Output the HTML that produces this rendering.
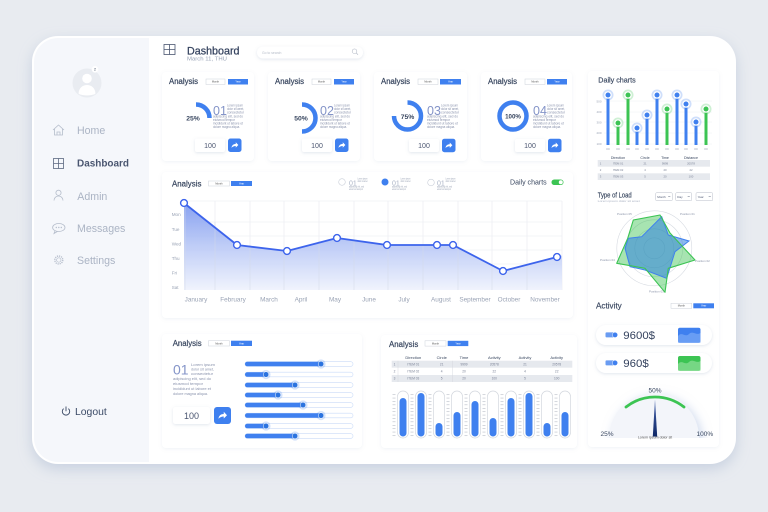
<!DOCTYPE html>
<html><head><meta charset="utf-8"><style>
html,body{margin:0;padding:0;width:768px;height:512px;overflow:hidden;background:#e8ebf0}
svg{display:block}
text{font-family:"Liberation Sans",sans-serif}
.h{font-size:8px;fill:#38465f;stroke:#38465f;stroke-width:.2}
.bt{font-size:2.6px;fill:#555}
.bw{font-size:2.6px;fill:#fff}
.lo{font-size:3.2px;fill:#8a93ad}
.lo4{font-size:4px;fill:#8a93ad}
.big{font-size:12.5px;fill:#8494c8}
.pc{font-size:6.8px;fill:#38465f;font-weight:bold}
.n{font-size:7px;fill:#4a5570}
.card{fill:#fff;filter:url(#sh)}
.inp{fill:#fff;filter:url(#sh2)}
.nav{font-size:10.6px;fill:#abb4c4}
.yl{font-size:4.6px;fill:#9aa3b5}
.ml{font-size:6.4px;fill:#9aa3b5;text-anchor:middle}
.th{font-size:4px;fill:#38465f;text-anchor:middle}
.td{font-size:3.2px;fill:#7a8296;text-anchor:middle}
.tiny{font-size:2.4px;fill:#9aa3b5}
.rl{font-size:3px;fill:#8a93a8}
</style></head><body>
<svg width="768" height="512" viewBox="0 0 768 512" xmlns="http://www.w3.org/2000/svg">
<defs>
<filter id="fsh" x="-10%" y="-10%" width="120%" height="125%"><feDropShadow dx="0" dy="5" stdDeviation="7" flood-color="#9fb0cc" flood-opacity=".45"/></filter>
<filter id="sh" x="-10%" y="-10%" width="120%" height="120%"><feDropShadow dx="0" dy="1" stdDeviation="1.8" flood-color="#8a9ab8" flood-opacity=".13"/></filter>
<filter id="sh2" x="-30%" y="-30%" width="160%" height="160%"><feDropShadow dx="0" dy="1" stdDeviation="1.5" flood-color="#8a9ab8" flood-opacity=".25"/></filter>
<filter id="sh3" x="-30%" y="-30%" width="160%" height="160%"><feDropShadow dx="3" dy="3" stdDeviation="5" flood-color="#9fb4dc" flood-opacity=".5"/></filter>
<clipPath id="fc"><rect x="34" y="38" width="700" height="424" rx="24"/></clipPath>
<clipPath id="gc"><rect x="590" y="380" width="128" height="58"/></clipPath>
<linearGradient id="ag" x1="0" y1="201" x2="0" y2="292" gradientUnits="userSpaceOnUse"><stop offset="0" stop-color="#7895ef"/><stop offset=".5" stop-color="#b9c8f6"/><stop offset="1" stop-color="#f1f4fd"/></linearGradient>
<linearGradient id="ng" x1="0" y1="399" x2="0" y2="437" gradientUnits="userSpaceOnUse"><stop offset="0" stop-color="#4a67b0"/><stop offset="1" stop-color="#0e2766"/></linearGradient>
<pattern id="tk" width="3" height="3.4" patternUnits="userSpaceOnUse"><rect width="3" height="0.5" fill="#a9afbb"/></pattern>
</defs>

<!-- page & frame -->
<rect width="768" height="512" fill="#e8ebf0"/>
<rect x="32" y="36" width="704" height="428" rx="26" fill="#fff" filter="url(#fsh)"/>
<rect x="34" y="38" width="115" height="424" fill="#f5f7fb" clip-path="url(#fc)"/>

<!-- sidebar -->
<circle cx="87" cy="83" r="14.5" fill="#e9ecf1"/>
<circle cx="87" cy="78.5" r="4.8" fill="#fff"/>
<path d="M78.5,93.5 C79,87.5 83,85 87,85 C91,85 95,87.5 95.5,93.5 C93,96 81,96 78.5,93.5Z" fill="#fff"/>
<circle cx="95" cy="69.3" r="3.3" fill="#fff"/>
<text x="95" y="70.6" font-size="3.6" fill="#38465f" text-anchor="middle">2</text>

<path d="M53,130 L58.5,125 L64,130 M54.5,129 V135 H62.5 V129 M57,135 V132 H60 V135" stroke="#b5bdcb" stroke-width=".8" fill="none"/>
<text x="77" y="134" class="nav">Home</text>
<rect x="53.5" y="158.5" width="10" height="10" stroke="#5b6780" stroke-width=".8" fill="none"/>
<path d="M58.5,158.5 V168.5 M53.5,163.5 H63.5" stroke="#5b6780" stroke-width=".8"/>
<text x="77" y="166.7" font-size="10.2" font-weight="bold" fill="#4a5670" textLength="52" lengthAdjust="spacingAndGlyphs">Dashboard</text>
<circle cx="58.5" cy="192.8" r="2.6" stroke="#b5bdcb" stroke-width=".8" fill="none"/>
<path d="M54,200.5 a4.5,4.5 0 0 1 9,0" stroke="#b5bdcb" stroke-width=".8" fill="none"/>
<text x="77.3" y="200" class="nav">Admin</text>
<ellipse cx="58.8" cy="227.5" rx="6.2" ry="4" stroke="#b5bdcb" stroke-width=".8" fill="none"/>
<path d="M55,231 L54,233.5 L57.5,231.4" stroke="#b5bdcb" stroke-width=".8" fill="none"/>
<circle cx="56.3" cy="227.5" r=".7" fill="#b5bdcb"/><circle cx="58.8" cy="227.5" r=".7" fill="#b5bdcb"/><circle cx="61.3" cy="227.5" r=".7" fill="#b5bdcb"/>
<text x="77" y="232" class="nav">Messages</text>
<circle cx="58.8" cy="260" r="4" stroke="#b5bdcb" stroke-width="1.3" stroke-dasharray="1.2 .9" fill="none"/>
<circle cx="58.8" cy="260" r="2.2" stroke="#b5bdcb" stroke-width=".7" fill="none"/>
<text x="77" y="264" class="nav">Settings</text>
<path d="M63.6,408.6 a3.7,3.7 0 1 0 4.8,0" stroke="#3b4a66" stroke-width=".9" fill="none"/>
<path d="M66,406.5 V411.2" stroke="#3b4a66" stroke-width=".9"/>
<text x="75" y="415" font-size="10.4" fill="#3b4a66">Logout</text>

<!-- header -->
<rect x="164" y="44.5" width="11" height="10" stroke="#4a5670" stroke-width=".8" fill="none"/>
<path d="M169.5,44.5 V54.5 M164,49.5 H175" stroke="#4a5670" stroke-width=".8"/>
<text x="187" y="54.3" font-size="11" fill="#34425e" stroke="#34425e" stroke-width=".25" textLength="52.5" lengthAdjust="spacingAndGlyphs">Dashboard</text>
<text x="187" y="60.7" font-size="5.3" fill="#98a2b5" textLength="40" lengthAdjust="spacingAndGlyphs">March 11, THU</text>
<rect x="257" y="46.5" width="106" height="12" rx="6" fill="#fff" filter="url(#sh2)"/>
<text x="262" y="53.8" font-size="3.4" fill="#b5bcc8">Go to search</text>
<circle cx="354.5" cy="51.2" r="2.3" stroke="#b5bcc8" stroke-width=".6" fill="none"/>
<path d="M356.2,52.9 L358,54.7" stroke="#b5bcc8" stroke-width=".7"/>

<!-- top cards -->
<g transform="translate(162,0)">
<rect y="72" width="92" height="89" rx="4" class="card"/>
<text x="7" y="84" class="h" textLength="29" lengthAdjust="spacingAndGlyphs">Analysis</text>
<rect x="44" y="79" width="19" height="5.5" fill="#fff" stroke="#cdd2da" stroke-width=".5"/><text x="53.5" y="82.7" class="bt" text-anchor="middle">Month</text>
<rect x="66" y="79" width="20" height="5.5" fill="#3f80ef"/><text x="76" y="82.7" class="bw" text-anchor="middle">Year</text>
<path d="M34,104.5 A13.5,13.5 0 0 1 47.5,118" fill="none" stroke="#3f80ef" stroke-width="4.5"/>
<text x="31" y="120.5" class="pc" text-anchor="middle">25%</text>
<text x="51" y="115" class="big">01</text>
<text x="65" y="106.5" class="lo" textLength="16" lengthAdjust="spacingAndGlyphs">Lorem ipsum</text>
<text x="65" y="110.1" class="lo" textLength="17" lengthAdjust="spacingAndGlyphs">dolor sit amet,</text>
<text x="65" y="113.7" class="lo" textLength="17" lengthAdjust="spacingAndGlyphs">consectetur</text>
<text x="51" y="117.3" class="lo" textLength="30" lengthAdjust="spacingAndGlyphs">adipiscing elit, sed do</text>
<text x="51" y="120.9" class="lo" textLength="22" lengthAdjust="spacingAndGlyphs">eiusmod tempor</text>
<text x="51" y="124.5" class="lo" textLength="30" lengthAdjust="spacingAndGlyphs">incididunt ut labore et</text>
<text x="51" y="128.1" class="lo" textLength="27" lengthAdjust="spacingAndGlyphs">dolore magna aliqua.</text>
<rect x="33" y="138.5" width="30" height="13.5" rx="2" class="inp"/><text x="48" y="148" class="n" text-anchor="middle">100</text>
<rect x="66" y="138.5" width="13.5" height="13.5" rx="2.5" fill="#3f80ef"/>
<path transform="translate(72.75,145.25)" d="M-3.2,2.6 C-3,0 -1.2,-1.2 1,-1.2 L1,-3 L3.6,-0.2 L1,2.4 L1,0.8 C-0.8,0.8 -2.2,1.4 -3.2,2.6 Z" fill="#fff"/>
</g>
<g transform="translate(268,0)">
<rect y="72" width="92" height="89" rx="4" class="card"/>
<text x="7" y="84" class="h" textLength="29" lengthAdjust="spacingAndGlyphs">Analysis</text>
<rect x="44" y="79" width="19" height="5.5" fill="#fff" stroke="#cdd2da" stroke-width=".5"/><text x="53.5" y="82.7" class="bt" text-anchor="middle">Month</text>
<rect x="66" y="79" width="20" height="5.5" fill="#3f80ef"/><text x="76" y="82.7" class="bw" text-anchor="middle">Year</text>
<path d="M34,104.5 A13.5,13.5 0 0 1 34,131.5" fill="none" stroke="#3f80ef" stroke-width="4.5"/>
<text x="33" y="120.5" class="pc" text-anchor="middle">50%</text>
<text x="52" y="115" class="big">02</text>
<text x="66" y="106.5" class="lo" textLength="16" lengthAdjust="spacingAndGlyphs">Lorem ipsum</text>
<text x="66" y="110.1" class="lo" textLength="17" lengthAdjust="spacingAndGlyphs">dolor sit amet,</text>
<text x="66" y="113.7" class="lo" textLength="17" lengthAdjust="spacingAndGlyphs">consectetur</text>
<text x="52" y="117.3" class="lo" textLength="30" lengthAdjust="spacingAndGlyphs">adipiscing elit, sed do</text>
<text x="52" y="120.9" class="lo" textLength="22" lengthAdjust="spacingAndGlyphs">eiusmod tempor</text>
<text x="52" y="124.5" class="lo" textLength="30" lengthAdjust="spacingAndGlyphs">incididunt ut labore et</text>
<text x="52" y="128.1" class="lo" textLength="27" lengthAdjust="spacingAndGlyphs">dolore magna aliqua.</text>
<rect x="34" y="138.5" width="30" height="13.5" rx="2" class="inp"/><text x="49" y="148" class="n" text-anchor="middle">100</text>
<rect x="67" y="138.5" width="13.5" height="13.5" rx="2.5" fill="#3f80ef"/>
<path transform="translate(73.75,145.25)" d="M-3.2,2.6 C-3,0 -1.2,-1.2 1,-1.2 L1,-3 L3.6,-0.2 L1,2.4 L1,0.8 C-0.8,0.8 -2.2,1.4 -3.2,2.6 Z" fill="#fff"/>
</g>
<g transform="translate(374,0)">
<rect y="72" width="93" height="89" rx="4" class="card"/>
<text x="7" y="84" class="h" textLength="29" lengthAdjust="spacingAndGlyphs">Analysis</text>
<rect x="44" y="79" width="20" height="5.5" fill="#fff" stroke="#cdd2da" stroke-width=".5"/><text x="54" y="82.7" class="bt" text-anchor="middle">Month</text>
<rect x="66" y="79" width="21" height="5.5" fill="#3f80ef"/><text x="76.5" y="82.7" class="bw" text-anchor="middle">Year</text>
<path d="M33.5,102.5 A13.5,13.5 0 1 1 20,116" fill="none" stroke="#3f80ef" stroke-width="4.5"/>
<text x="33.5" y="119" class="pc" text-anchor="middle">75%</text>
<text x="53" y="115" class="big">03</text>
<text x="67" y="106.5" class="lo" textLength="17" lengthAdjust="spacingAndGlyphs">Lorem ipsum</text>
<text x="67" y="110.1" class="lo" textLength="18" lengthAdjust="spacingAndGlyphs">dolor sit amet,</text>
<text x="67" y="113.7" class="lo" textLength="18" lengthAdjust="spacingAndGlyphs">consectetur</text>
<text x="53" y="117.3" class="lo" textLength="31" lengthAdjust="spacingAndGlyphs">adipiscing elit, sed do</text>
<text x="53" y="120.9" class="lo" textLength="23" lengthAdjust="spacingAndGlyphs">eiusmod tempor</text>
<text x="53" y="124.5" class="lo" textLength="31" lengthAdjust="spacingAndGlyphs">incididunt ut labore et</text>
<text x="53" y="128.1" class="lo" textLength="28" lengthAdjust="spacingAndGlyphs">dolore magna aliqua.</text>
<rect x="35" y="139" width="30" height="13" rx="2" class="inp"/><text x="50" y="148.2" class="n" text-anchor="middle">100</text>
<rect x="68" y="138.7" width="13.5" height="13.5" rx="2.5" fill="#3f80ef"/>
<path transform="translate(74.75,145.45)" d="M-3.2,2.6 C-3,0 -1.2,-1.2 1,-1.2 L1,-3 L3.6,-0.2 L1,2.4 L1,0.8 C-0.8,0.8 -2.2,1.4 -3.2,2.6 Z" fill="#fff"/>
</g>
<g transform="translate(481,0)">
<rect y="72" width="91" height="89" rx="4" class="card"/>
<text x="7" y="84" class="h" textLength="29" lengthAdjust="spacingAndGlyphs">Analysis</text>
<rect x="44" y="79" width="20" height="5.5" fill="#fff" stroke="#cdd2da" stroke-width=".5"/><text x="54" y="82.7" class="bt" text-anchor="middle">Month</text>
<rect x="66" y="79" width="20" height="5.5" fill="#3f80ef"/><text x="76" y="82.7" class="bw" text-anchor="middle">Year</text>
<circle cx="32" cy="116" r="13.5" fill="none" stroke="#3f80ef" stroke-width="4.5"/>
<text x="32" y="118.5" class="pc" text-anchor="middle" font-size="6.2" style="font-size:6.2px">100%</text>
<text x="52" y="115" class="big">04</text>
<text x="66" y="106.5" class="lo" textLength="17" lengthAdjust="spacingAndGlyphs">Lorem ipsum</text>
<text x="66" y="110.1" class="lo" textLength="18" lengthAdjust="spacingAndGlyphs">dolor sit amet,</text>
<text x="66" y="113.7" class="lo" textLength="18" lengthAdjust="spacingAndGlyphs">consectetur</text>
<text x="52" y="117.3" class="lo" textLength="31" lengthAdjust="spacingAndGlyphs">adipiscing elit, sed do</text>
<text x="52" y="120.9" class="lo" textLength="23" lengthAdjust="spacingAndGlyphs">eiusmod tempor</text>
<text x="52" y="124.5" class="lo" textLength="31" lengthAdjust="spacingAndGlyphs">incididunt ut labore et</text>
<text x="52" y="128.1" class="lo" textLength="28" lengthAdjust="spacingAndGlyphs">dolore magna aliqua.</text>
<rect x="34" y="139" width="30" height="13" rx="2" class="inp"/><text x="49" y="148.2" class="n" text-anchor="middle">100</text>
<rect x="67" y="138.7" width="13.5" height="13.5" rx="2.5" fill="#3f80ef"/>
<path transform="translate(73.75,145.45)" d="M-3.2,2.6 C-3,0 -1.2,-1.2 1,-1.2 L1,-3 L3.6,-0.2 L1,2.4 L1,0.8 C-0.8,0.8 -2.2,1.4 -3.2,2.6 Z" fill="#fff"/>
</g>

<!-- main line chart card -->
<rect x="162" y="172" width="411" height="146" rx="4" class="card"/>
<text x="172" y="186.5" class="h" textLength="29.4" lengthAdjust="spacingAndGlyphs">Analysis</text>
<rect x="208.5" y="181" width="21" height="5" fill="#fff" stroke="#cdd2da" stroke-width=".5"/><text x="219" y="184.4" class="bt" text-anchor="middle">Month</text>
<rect x="231" y="181" width="21" height="5" fill="#3f80ef"/><text x="241.5" y="184.4" class="bw" text-anchor="middle">Year</text>
<circle cx="342" cy="182" r="3.3" fill="#fff" stroke="#c9ced8" stroke-width=".6"/>
<text x="349" y="185.5" font-size="7" fill="#aab3c6">01</text>
<text x="357.5" y="179.5" class="tiny" textLength="10" lengthAdjust="spacingAndGlyphs">Lorem ipsum</text>
<text x="357.5" y="182" class="tiny" textLength="10" lengthAdjust="spacingAndGlyphs">dolor sit amet</text>
<text x="349" y="187.5" class="tiny" textLength="15" lengthAdjust="spacingAndGlyphs">adipiscing elit, sed</text>
<text x="349" y="190" class="tiny" textLength="14" lengthAdjust="spacingAndGlyphs">eiusmod tempor</text>
<circle cx="385" cy="182" r="3.5" fill="#3f80ef"/>
<text x="392" y="185.5" font-size="7" fill="#aab3c6">01</text>
<text x="400.5" y="179.5" class="tiny" textLength="10" lengthAdjust="spacingAndGlyphs">Lorem ipsum</text>
<text x="400.5" y="182" class="tiny" textLength="10" lengthAdjust="spacingAndGlyphs">dolor sit amet</text>
<text x="392" y="187.5" class="tiny" textLength="15" lengthAdjust="spacingAndGlyphs">adipiscing elit, sed</text>
<text x="392" y="190" class="tiny" textLength="14" lengthAdjust="spacingAndGlyphs">eiusmod tempor</text>
<circle cx="431" cy="182.5" r="3.3" fill="#fff" stroke="#c9ced8" stroke-width=".6"/>
<text x="437" y="185.5" font-size="7" fill="#aab3c6">01</text>
<text x="445.5" y="179.5" class="tiny" textLength="10" lengthAdjust="spacingAndGlyphs">Lorem ipsum</text>
<text x="445.5" y="182" class="tiny" textLength="10" lengthAdjust="spacingAndGlyphs">dolor sit amet</text>
<text x="437" y="187.5" class="tiny" textLength="15" lengthAdjust="spacingAndGlyphs">adipiscing elit, sed</text>
<text x="437" y="190" class="tiny" textLength="14" lengthAdjust="spacingAndGlyphs">eiusmod tempor</text>
<text x="510" y="184.5" font-size="7" fill="#38465f" textLength="36.7" lengthAdjust="spacingAndGlyphs">Daily charts</text>
<rect x="551.5" y="179.5" width="12" height="5.5" rx="2.75" fill="#3cc453"/>
<circle cx="560.8" cy="182.25" r="2" fill="#fff"/>

<g stroke="#e7eaf0" stroke-width=".6">
<path d="M185,201 V290 M215,201 V290 M250,201 V290 M284,201 V290 M319,201 V290 M354,201 V290 M388,201 V290 M423,201 V290 M458,201 V290 M492,201 V290 M527,201 V290 M562,201 V290"/>
<path d="M185,201 H562 M185,222 H562 M185,236 H562 M185,250 H562 M185,264 H562 M185,278 H562"/>
</g>
<path d="M184,203 L237,245 L287,251 L337,238 L387,245 L437,245 L453,245 L503,271 L557,257 L562,255.5 L562,290 L184,290 Z" fill="url(#ag)" opacity=".9"/>
<g stroke="#d5dbe8" stroke-width=".5"><path d="M185,201 V290 M215,222 V290 M250,245 V290 M284,251 V290 M319,241 V290 M354,241 V290 M388,245 V290 M423,245 V290 M458,246 V290 M492,266 V290 M527,264 V290"/></g>
<path d="M184,203 L237,245 L287,251 L337,238 L387,245 L437,245 L453,245 L503,271 L557,257" fill="none" stroke="#3d64ec" stroke-width="1.8" stroke-linejoin="round"/>
<g fill="#fff" stroke="#3d64ec" stroke-width="1.4">
<circle cx="184" cy="203" r="3.4"/><circle cx="237" cy="245" r="3.4"/><circle cx="287" cy="251" r="3.4"/><circle cx="337" cy="238" r="3.4"/><circle cx="387" cy="245" r="3.4"/><circle cx="437" cy="245" r="3.4"/><circle cx="453" cy="245" r="3.4"/><circle cx="503" cy="271" r="3.4"/><circle cx="557" cy="257" r="3.4"/>
</g>
<text x="171.7" y="216" class="yl">Mon</text>
<text x="171.7" y="231" class="yl">Tue</text>
<text x="171.7" y="245.5" class="yl">Wed</text>
<text x="171.7" y="260" class="yl">Thu</text>
<text x="171.7" y="274.5" class="yl">Fri</text>
<text x="171.7" y="289" class="yl">Sat</text>
<text x="196" y="301.5" class="ml">January</text>
<text x="233" y="301.5" class="ml">February</text>
<text x="269" y="301.5" class="ml">March</text>
<text x="301" y="301.5" class="ml">April</text>
<text x="335" y="301.5" class="ml">May</text>
<text x="369" y="301.5" class="ml">June</text>
<text x="404" y="301.5" class="ml">July</text>
<text x="441" y="301.5" class="ml">August</text>
<text x="475" y="301.5" class="ml">September</text>
<text x="509" y="301.5" class="ml">October</text>
<text x="545" y="301.5" class="ml">November</text>

<!-- bottom left card -->
<rect x="162" y="334" width="200" height="114" rx="4" class="card"/>
<text x="172.7" y="346" class="h" textLength="29" lengthAdjust="spacingAndGlyphs">Analysis</text>
<rect x="208.5" y="340.7" width="21" height="5.3" fill="#fff" stroke="#cdd2da" stroke-width=".5"/><text x="219" y="344.3" class="bt" text-anchor="middle">Month</text>
<rect x="231" y="340.7" width="21" height="5.3" fill="#3f80ef"/><text x="241.5" y="344.3" class="bw" text-anchor="middle">Year</text>
<text x="173" y="374.5" font-size="14" fill="#8494c8">01</text>
<text x="191" y="366" class="lo4" textLength="24" lengthAdjust="spacingAndGlyphs">Lorem ipsum</text>
<text x="191" y="370.5" class="lo4" textLength="23" lengthAdjust="spacingAndGlyphs">dolor sit amet,</text>
<text x="191" y="375" class="lo4" textLength="22" lengthAdjust="spacingAndGlyphs">consectetur</text>
<text x="173" y="380" class="lo4" textLength="38" lengthAdjust="spacingAndGlyphs">adipiscing elit, sed do</text>
<text x="173" y="385" class="lo4" textLength="30" lengthAdjust="spacingAndGlyphs">eiusmod tempor</text>
<text x="173" y="390" class="lo4" textLength="38" lengthAdjust="spacingAndGlyphs">incididunt ut labore et</text>
<text x="173" y="395" class="lo4" textLength="35" lengthAdjust="spacingAndGlyphs">dolore magna aliqua.</text>
<rect x="173" y="407" width="37" height="17" rx="2.5" class="inp"/><text x="191.5" y="418.8" font-size="9" fill="#4a5570" text-anchor="middle">100</text>
<rect x="214" y="407" width="17" height="17" rx="3" fill="#3f80ef"/>
<path transform="translate(222.5,415.5) scale(1.25)" d="M-3.2,2.6 C-3,0 -1.2,-1.2 1,-1.2 L1,-3 L3.6,-0.2 L1,2.4 L1,0.8 C-0.8,0.8 -2.2,1.4 -3.2,2.6 Z" fill="#fff"/>
<g>
<rect x="245" y="361.7" width="108" height="4.6" rx="2.3" fill="#fff" stroke="#c9dbf8" stroke-width=".6"/><rect x="245" y="361.7" width="76" height="4.6" rx="2.3" fill="#3f80ef"/>
<rect x="245" y="372.2" width="108" height="4.6" rx="2.3" fill="#fff" stroke="#c9dbf8" stroke-width=".6"/><rect x="245" y="372.2" width="21" height="4.6" rx="2.3" fill="#3f80ef"/>
<rect x="245" y="382.7" width="108" height="4.6" rx="2.3" fill="#fff" stroke="#c9dbf8" stroke-width=".6"/><rect x="245" y="382.7" width="50" height="4.6" rx="2.3" fill="#3f80ef"/>
<rect x="245" y="392.7" width="108" height="4.6" rx="2.3" fill="#fff" stroke="#c9dbf8" stroke-width=".6"/><rect x="245" y="392.7" width="33" height="4.6" rx="2.3" fill="#3f80ef"/>
<rect x="245" y="402.7" width="108" height="4.6" rx="2.3" fill="#fff" stroke="#c9dbf8" stroke-width=".6"/><rect x="245" y="402.7" width="58" height="4.6" rx="2.3" fill="#3f80ef"/>
<rect x="245" y="413.2" width="108" height="4.6" rx="2.3" fill="#fff" stroke="#c9dbf8" stroke-width=".6"/><rect x="245" y="413.2" width="76" height="4.6" rx="2.3" fill="#3f80ef"/>
<rect x="245" y="423.7" width="108" height="4.6" rx="2.3" fill="#fff" stroke="#c9dbf8" stroke-width=".6"/><rect x="245" y="423.7" width="21" height="4.6" rx="2.3" fill="#3f80ef"/>
<rect x="245" y="433.7" width="108" height="4.6" rx="2.3" fill="#fff" stroke="#c9dbf8" stroke-width=".6"/><rect x="245" y="433.7" width="50" height="4.6" rx="2.3" fill="#3f80ef"/>
</g>
<g fill="#3f80ef" fill-opacity=".22"><circle cx="321" cy="364" r="4.6"/><circle cx="266" cy="374.5" r="4.6"/><circle cx="295" cy="385" r="4.6"/><circle cx="278" cy="395" r="4.6"/><circle cx="303" cy="405" r="4.6"/><circle cx="321" cy="415.5" r="4.6"/><circle cx="266" cy="426" r="4.6"/><circle cx="295" cy="436" r="4.6"/></g>
<g fill="#2b73df" stroke="#fff" stroke-width=".5"><circle cx="321" cy="364" r="2.8"/><circle cx="266" cy="374.5" r="2.8"/><circle cx="295" cy="385" r="2.8"/><circle cx="278" cy="395" r="2.8"/><circle cx="303" cy="405" r="2.8"/><circle cx="321" cy="415.5" r="2.8"/><circle cx="266" cy="426" r="2.8"/><circle cx="295" cy="436" r="2.8"/></g>

<!-- bottom middle card -->
<rect x="381" y="335" width="196" height="113" rx="4" class="card"/>
<text x="389" y="347" class="h" textLength="29.3" lengthAdjust="spacingAndGlyphs">Analysis</text>
<rect x="425" y="340.8" width="21" height="5.3" fill="#fff" stroke="#cdd2da" stroke-width=".5"/><text x="435.5" y="344.4" class="bt" text-anchor="middle">Month</text>
<rect x="447.7" y="340.8" width="20.6" height="5.3" fill="#3f80ef"/><text x="458" y="344.4" class="bw" text-anchor="middle">Year</text>
<text x="413.3" y="359.2" class="th">Direction</text>
<text x="441.7" y="359.2" class="th">Circle</text>
<text x="464" y="359.2" class="th">Time</text>
<text x="494.3" y="359.2" class="th">Activity</text>
<text x="525" y="359.2" class="th">Activity</text>
<text x="556.7" y="359.2" class="th">Activity</text>
<rect x="391.7" y="360.7" width="180.6" height="7" fill="#e6e9ee"/>
<rect x="391.7" y="375" width="180.6" height="7" fill="#e6e9ee"/>
<path d="M398,360.7 V382 M452.7,360.7 V382" stroke="#d0d4dc" stroke-width=".4"/>
<g class="td">
<text x="394.5" y="365.3" class="td">1</text><text x="413.3" y="365.3" class="td">ITEM 01</text><text x="441.7" y="365.3" class="td">21</text><text x="464" y="365.3" class="td">9999</text><text x="494.3" y="365.3" class="td">20578</text><text x="525" y="365.3" class="td">21</text><text x="556.7" y="365.3" class="td">20578</text>
<text x="394.5" y="372.4" class="td">2</text><text x="413.3" y="372.4" class="td">ITEM 02</text><text x="441.7" y="372.4" class="td">4</text><text x="464" y="372.4" class="td">20</text><text x="494.3" y="372.4" class="td">22</text><text x="525" y="372.4" class="td">4</text><text x="556.7" y="372.4" class="td">22</text>
<text x="394.5" y="379.6" class="td">3</text><text x="413.3" y="379.6" class="td">ITEM 03</text><text x="441.7" y="379.6" class="td">5</text><text x="464" y="379.6" class="td">20</text><text x="494.3" y="379.6" class="td">100</text><text x="525" y="379.6" class="td">5</text><text x="556.7" y="379.6" class="td">100</text>
</g>
<g fill="url(#tk)">
<rect x="392.5" y="393" width="3" height="45"/><rect x="410.5" y="393" width="3" height="45"/><rect x="428.5" y="393" width="3" height="45"/><rect x="446.5" y="393" width="3" height="45"/><rect x="464.5" y="393" width="3" height="45"/><rect x="482.5" y="393" width="3" height="45"/><rect x="500.5" y="393" width="3" height="45"/><rect x="518.5" y="393" width="3" height="45"/><rect x="536.5" y="393" width="3" height="45"/><rect x="554.5" y="393" width="3" height="45"/>
</g>
<g fill="#fff" stroke="#d3d7de" stroke-width=".7">
<rect x="397.5" y="391" width="11" height="47" rx="5.5"/><rect x="415.5" y="391" width="11" height="47" rx="5.5"/><rect x="433.5" y="391" width="11" height="47" rx="5.5"/><rect x="451.5" y="391" width="11" height="47" rx="5.5"/><rect x="469.5" y="391" width="11" height="47" rx="5.5"/><rect x="487.5" y="391" width="11" height="47" rx="5.5"/><rect x="505.5" y="391" width="11" height="47" rx="5.5"/><rect x="523.5" y="391" width="11" height="47" rx="5.5"/><rect x="541.5" y="391" width="11" height="47" rx="5.5"/><rect x="559.5" y="391" width="11" height="47" rx="5.5"/>
</g>
<g fill="#3f80ef">
<rect x="399.5" y="398" width="7" height="38.5" rx="3.5"/><rect x="417.5" y="393" width="7" height="43.5" rx="3.5"/><rect x="435.5" y="423" width="7" height="13.5" rx="3.5"/><rect x="453.5" y="412" width="7" height="24.5" rx="3.5"/><rect x="471.5" y="401" width="7" height="35.5" rx="3.5"/><rect x="489.5" y="418" width="7" height="18.5" rx="3.5"/><rect x="507.5" y="398" width="7" height="38.5" rx="3.5"/><rect x="525.5" y="393" width="7" height="43.5" rx="3.5"/><rect x="543.5" y="423" width="7" height="13.5" rx="3.5"/><rect x="561.5" y="412" width="7" height="24.5" rx="3.5"/>
</g>

<!-- right panel -->
<rect x="588" y="71" width="131" height="376" rx="4" class="card"/>
<text x="598.3" y="82.5" font-size="7.2" fill="#38465f" stroke="#38465f" stroke-width=".15" textLength="37.4" lengthAdjust="spacingAndGlyphs">Daily charts</text>
<g stroke="#eef0f4" stroke-width=".5"><path d="M604,101 H712 M604,112 H712 M604,122 H712 M604,133 H712 M604,144 H712"/></g>
<g font-size="3" fill="#9aa3b5"><text x="596.5" y="102.5">500</text><text x="596.5" y="113">400</text><text x="596.5" y="123.5">300</text><text x="596.5" y="134">200</text><text x="596.5" y="145">100</text></g>
<g>
<rect x="606.5" y="95" width="3" height="50" fill="#3f80ef"/><rect x="616.5" y="123" width="3" height="22" fill="#3cc453"/><rect x="626.5" y="95" width="3" height="50" fill="#3cc453"/><rect x="635.5" y="128" width="3" height="17" fill="#3f80ef"/><rect x="645.5" y="115" width="3" height="30" fill="#3f80ef"/><rect x="655.5" y="95" width="3" height="50" fill="#3f80ef"/><rect x="665.5" y="109" width="3" height="36" fill="#3cc453"/><rect x="675.5" y="95" width="3" height="50" fill="#3f80ef"/><rect x="684.5" y="104" width="3" height="41" fill="#3f80ef"/><rect x="694.5" y="122" width="3" height="23" fill="#3f80ef"/><rect x="704.5" y="109" width="3" height="36" fill="#3cc453"/>
</g>
<g fill-opacity=".25">
<circle cx="608" cy="95" r="5.5" fill="#3f80ef"/><circle cx="618" cy="123" r="5.5" fill="#3cc453"/><circle cx="628" cy="95" r="5.5" fill="#3cc453"/><circle cx="637" cy="128" r="5.5" fill="#3f80ef"/><circle cx="647" cy="115" r="5.5" fill="#3f80ef"/><circle cx="657" cy="95" r="5.5" fill="#3f80ef"/><circle cx="667" cy="109" r="5.5" fill="#3cc453"/><circle cx="677" cy="95" r="5.5" fill="#3f80ef"/><circle cx="686" cy="104" r="5.5" fill="#3f80ef"/><circle cx="696" cy="122" r="5.5" fill="#3f80ef"/><circle cx="706" cy="109" r="5.5" fill="#3cc453"/>
</g>
<g fill="#fff">
<circle cx="608" cy="95" r="3.8"/><circle cx="618" cy="123" r="3.8"/><circle cx="628" cy="95" r="3.8"/><circle cx="637" cy="128" r="3.8"/><circle cx="647" cy="115" r="3.8"/><circle cx="657" cy="95" r="3.8"/><circle cx="667" cy="109" r="3.8"/><circle cx="677" cy="95" r="3.8"/><circle cx="686" cy="104" r="3.8"/><circle cx="696" cy="122" r="3.8"/><circle cx="706" cy="109" r="3.8"/>
</g>
<g>
<circle cx="608" cy="95" r="2.5" fill="#3f80ef"/><circle cx="618" cy="123" r="2.5" fill="#3cc453"/><circle cx="628" cy="95" r="2.5" fill="#3cc453"/><circle cx="637" cy="128" r="2.5" fill="#3f80ef"/><circle cx="647" cy="115" r="2.5" fill="#3f80ef"/><circle cx="657" cy="95" r="2.5" fill="#3f80ef"/><circle cx="667" cy="109" r="2.5" fill="#3cc453"/><circle cx="677" cy="95" r="2.5" fill="#3f80ef"/><circle cx="686" cy="104" r="2.5" fill="#3f80ef"/><circle cx="696" cy="122" r="2.5" fill="#3f80ef"/><circle cx="706" cy="109" r="2.5" fill="#3cc453"/>
</g>
<g font-size="2.4" fill="#a9b0bf" text-anchor="middle">
<text x="608" y="150">000</text><text x="618" y="150">000</text><text x="628" y="150">000</text><text x="637" y="150">000</text><text x="647" y="150">000</text><text x="657" y="150">000</text><text x="667" y="150">000</text><text x="677" y="150">000</text><text x="686" y="150">000</text><text x="696" y="150">000</text><text x="706" y="150">000</text>
</g>
<text x="618" y="159" class="th" style="font-size:3.6px">Direction</text>
<text x="645" y="159" class="th" style="font-size:3.6px">Circle</text>
<text x="665" y="159" class="th" style="font-size:3.6px">Time</text>
<text x="691" y="159" class="th" style="font-size:3.6px">Distance</text>
<rect x="597.7" y="160" width="112.3" height="6.7" fill="#e6e9ee"/>
<rect x="597.7" y="173.3" width="112.3" height="6.7" fill="#e6e9ee"/>
<g>
<text x="600.5" y="164.4" class="td" style="font-size:2.8px">1</text><text x="618" y="164.4" class="td" style="font-size:2.8px">ITEM 01</text><text x="645" y="164.4" class="td" style="font-size:2.8px">21</text><text x="665" y="164.4" class="td" style="font-size:2.8px">9999</text><text x="691" y="164.4" class="td" style="font-size:2.8px">20578</text>
<text x="600.5" y="171" class="td" style="font-size:2.8px">2</text><text x="618" y="171" class="td" style="font-size:2.8px">ITEM 02</text><text x="645" y="171" class="td" style="font-size:2.8px">4</text><text x="665" y="171" class="td" style="font-size:2.8px">20</text><text x="691" y="171" class="td" style="font-size:2.8px">22</text>
<text x="600.5" y="177.7" class="td" style="font-size:2.8px">3</text><text x="618" y="177.7" class="td" style="font-size:2.8px">ITEM 03</text><text x="645" y="177.7" class="td" style="font-size:2.8px">5</text><text x="665" y="177.7" class="td" style="font-size:2.8px">20</text><text x="691" y="177.7" class="td" style="font-size:2.8px">100</text>
</g>

<text x="597.7" y="197.5" font-size="7" fill="#38465f" stroke="#38465f" stroke-width=".15" textLength="34" lengthAdjust="spacingAndGlyphs">Type of Load</text>
<text x="597.7" y="202" font-size="3" fill="#aab2c2" textLength="42" lengthAdjust="spacingAndGlyphs">Lorem ipsum dolor sit amet</text>
<g fill="#fff" stroke="#b9bfca" stroke-width=".5">
<rect x="655.7" y="192.7" width="16.6" height="8" rx="1"/><rect x="675.7" y="192.7" width="16" height="8" rx="1"/><rect x="696" y="192.7" width="16.7" height="8" rx="1"/>
</g>
<g font-size="3" fill="#4a5570"><text x="657.3" y="197.8">Month</text><text x="677.3" y="197.8">Day</text><text x="697.6" y="197.8">Year</text></g>
<g stroke="#4a5570" stroke-width=".5" fill="none"><path d="M668.3,196 l1,1 l1,-1 M687.7,196 l1,1 l1,-1 M708.7,196 l1,1 l1,-1"/></g>

<g fill="none" stroke="#d6dae1" stroke-width=".6">
<circle cx="654.3" cy="248.3" r="37.5"/><circle cx="654.3" cy="248.3" r="28.5"/><circle cx="654.3" cy="248.3" r="19.5"/><circle cx="654.3" cy="248.3" r="10.5"/>
</g>
<polygon points="633.3,220 660,215 670,233 695,260 668.3,268.3 665,292.3 645,268.3 616.7,263.3 627.7,238.3" fill="#3cc453" fill-opacity=".45"/>
<polygon points="661.7,216.7 668.3,235 689,241 675,251.7 666.7,278.3 645,270 630,266.7 625,248.3 628.3,238.3 641.7,236.7" fill="#2f7fe0" fill-opacity=".55" stroke="#3f80ef" stroke-width="1"/>
<polygon points="633.3,220 660,215 670,233 695,260 668.3,268.3 665,292.3 645,268.3 616.7,263.3 627.7,238.3" fill="none" stroke="#3cc453" stroke-width="1.1" stroke-linejoin="round"/>
<g class="rl"><text x="617" y="215" class="rl">Position 05</text><text x="680" y="215" class="rl">Position 01</text><text x="695" y="262" class="rl">Position 02</text><text x="649" y="292.5" class="rl">Position 03</text><text x="600" y="261" class="rl">Position 04</text></g>

<text x="596" y="308.5" font-size="8.5" fill="#38465f" stroke="#38465f" stroke-width=".15" textLength="25.7" lengthAdjust="spacingAndGlyphs">Activity</text>
<rect x="671" y="303.3" width="20.7" height="5" fill="#fff" stroke="#cdd2da" stroke-width=".5"/><text x="681.3" y="306.7" class="bt" text-anchor="middle">Month</text>
<rect x="693.3" y="303.3" width="20.7" height="5" fill="#3f80ef"/><text x="703.6" y="306.7" class="bw" text-anchor="middle">Year</text>

<rect x="596" y="325" width="116" height="20" rx="10" fill="#fff" filter="url(#sh2)"/>
<rect x="605.5" y="332.4" width="8.5" height="5" rx="1" fill="#6a9cf2"/>
<circle cx="615" cy="334.9" r="2.7" fill="#3f80ef" stroke="#fff" stroke-width=".5"/>
<text x="623.3" y="339" font-size="11" fill="#34425e" textLength="31.7" lengthAdjust="spacingAndGlyphs">9600$</text>
<rect x="678" y="327.7" width="22.5" height="15" rx="2" fill="#3f80ef"/>
<path d="M678,336 C682,331 685,338 689,334 C693,330 696,336 700.5,333 V342.7 H678Z" fill="#7aaaf6" opacity=".7"/>
<rect x="596" y="353" width="116" height="20" rx="10" fill="#fff" filter="url(#sh2)"/>
<rect x="605.5" y="360.4" width="8.5" height="5" rx="1" fill="#6a9cf2"/>
<circle cx="615" cy="362.9" r="2.7" fill="#3f80ef" stroke="#fff" stroke-width=".5"/>
<text x="623.3" y="366.8" font-size="11" fill="#34425e" textLength="25.5" lengthAdjust="spacingAndGlyphs">960$</text>
<rect x="678" y="356" width="22.5" height="14.7" rx="2" fill="#3cc453"/>
<path d="M678,364 C682,359 685,366 689,362 C693,358 696,364 700.5,361 V370.7 H678Z" fill="#8fe09a" opacity=".7"/>

<g clip-path="url(#gc)">
<circle cx="654" cy="438" r="45" fill="#f3f5fa" filter="url(#sh3)"/>
</g>
<path d="M626,407 A47,47 0 0 1 684,407" fill="none" stroke="#3cc453" stroke-width="2.8" stroke-linecap="round"/>
<polygon points="652.8,436.5 657.2,436.5 655,399.5" fill="url(#ng)"/>
<text x="655" y="392.3" font-size="6.5" fill="#38465f" text-anchor="middle">50%</text>
<text x="600.5" y="436" font-size="6.5" fill="#38465f">25%</text>
<text x="696.5" y="436" font-size="6.5" fill="#38465f">100%</text>
<text x="655" y="438.5" font-size="3.6" fill="#555" text-anchor="middle">Lorem ipsum dolor sit</text>
</svg>
</body></html>
